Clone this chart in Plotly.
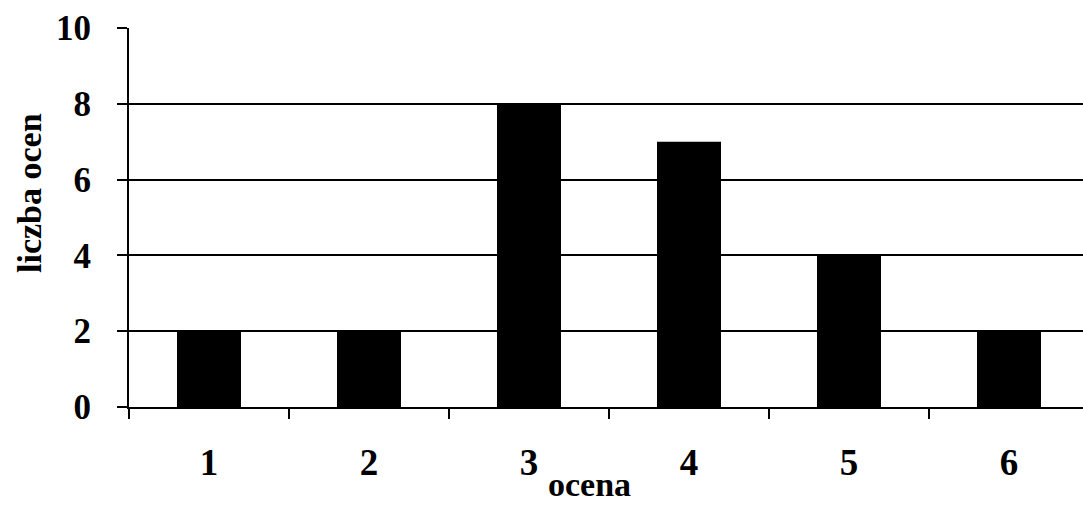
import plotly.graph_objects as go

categories = ["1", "2", "3", "4", "5", "6"]
values = [2, 2, 8, 7, 4, 2]
y_ticks = [0, 2, 4, 6, 8, 10]
x_title = "ocena"
y_title = "liczba ocen"

W, H = 1083, 518
L, R, T, B = 129, 0, 28, 111

serif = "Liberation Serif, Times New Roman, serif"

fig = go.Figure(go.Bar(
    x=categories, y=values,
    marker=dict(color="black", line=dict(width=0)),
    width=0.4,
))

fig.update_layout(
    width=W, height=H,
    margin=dict(l=L, r=R, t=T, b=B, pad=0),
    paper_bgcolor="white", plot_bgcolor="white",
    showlegend=False,
    font=dict(family=serif, color="black", size=34, weight="bold"),
    bargap=0.6,
)

fig.update_xaxes(
    type="category",
    range=[-0.5, 5.4625],
    tickson="boundaries",
    ticks="outside", ticklen=10, tickwidth=1.5, tickcolor="black",
    showline=True, linecolor="black", linewidth=2,
    showgrid=False, zeroline=False,
    tickfont=dict(family=serif, size=37, weight="bold"),
    ticklabelstandoff=22,
)

fig.update_yaxes(
    range=[0, 10],
    tickvals=y_ticks,
    ticks="outside", ticklen=10, tickwidth=2, tickcolor="black",
    showline=True, linecolor="black", linewidth=2,
    showgrid=True, gridcolor="black", gridwidth=2,
    zeroline=False,
    tickfont=dict(family=serif, size=35, weight="bold"),
    ticklabelstandoff=19,
)

# axis titles placed as annotations to match reference positions
fig.add_annotation(
    text=x_title, xref="paper", yref="paper",
    x=(589 - L) / (W - L - R), y=-(484 - (H - B)) / (H - T - B),
    xanchor="center", yanchor="middle", showarrow=False,
    font=dict(family=serif, size=34, weight="bold"),
)
fig.add_annotation(
    text=y_title, xref="paper", yref="paper",
    x=-(L - 29) / (W - L - R), y=((H - B) - 193) / (H - T - B),
    xanchor="center", yanchor="middle", showarrow=False, textangle=-90,
    font=dict(family=serif, size=34, weight="bold"),
)

fig.write_html(
    "out.html",
    config={"displayModeBar": False, "staticPlot": True},
    post_script="document.body.style.margin='0';document.body.style.overflow='hidden';",
)
